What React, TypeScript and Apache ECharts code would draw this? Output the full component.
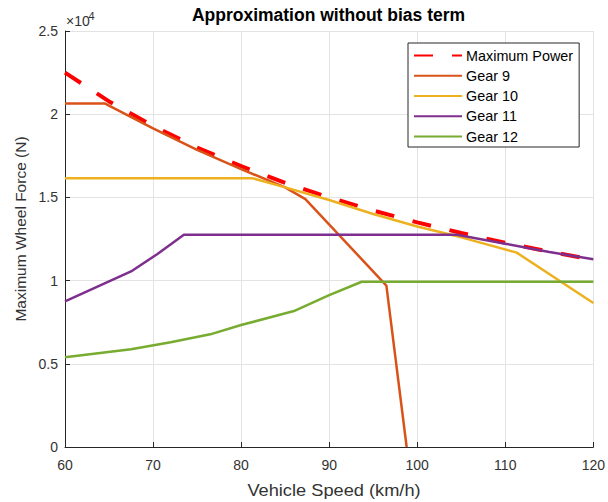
import React, { useEffect, useRef } from "react";
import * as echarts from "echarts";

const xTicks = [60, 70, 80, 90, 100, 110, 120];
const seriesNames = ["Maximum Power", "Gear 9", "Gear 10", "Gear 11", "Gear 12"];

// [speed km/h, force N]
const maxPower: number[][] = [
  [60, 22500], [65, 20770], [70, 19290], [75, 18000], [80, 16875], [85, 15880],
  [90, 15000], [95, 14210], [100, 13500], [105, 12860], [110, 12270], [115, 11740], [120, 11250],
];
const gear9: number[][] = [
  [60, 20650], [64.5, 20650], [70, 19150], [75, 17850], [80, 16700], [85, 15600],
  [87.3, 14900], [96.5, 9700], [98.8, 0],
];
const gear10: number[][] = [
  [60, 16150], [81.3, 16150], [85, 15600], [90, 14840], [95, 14000], [100, 13250],
  [105, 12600], [111.3, 11680], [120, 8650],
];
const gear11: number[][] = [
  [60, 8750], [67.5, 10550], [70.5, 11600], [73.5, 12750], [104.5, 12750],
  [110, 12220], [115, 11720], [120, 11280],
];
const gear12: number[][] = [
  [60, 5400], [67.5, 5870], [72, 6300], [76.5, 6770], [80, 7330], [86, 8170],
  [90, 9130], [93.7, 9930], [120, 9930],
];

const colors = ["#FF0000", "#D95319", "#EDB120", "#7E2F8E", "#77AC30"];
const FONT = "'Liberation Sans', Arial, Helvetica, sans-serif";

export default function App() {
  const ref = useRef<HTMLDivElement>(null);
  useEffect(() => {
    if (!ref.current) return;
    const chart = echarts.init(ref.current, undefined, { renderer: "svg" });
    const data = [maxPower, gear9, gear10, gear11, gear12];
    chart.setOption({
      animation: false,
      backgroundColor: "#fff",
      textStyle: { fontFamily: FONT },
      grid: { left: 65, right: 14.5, top: 31, bottom: 55, containLabel: false },
      graphic: [
        {
          type: "text",
          x: 328.5,
          y: 14.5,
          style: {
            text: "Approximation without bias term",
            font: `bold 17.5px ${FONT}`,
            fill: "#000",
            align: "center",
            verticalAlign: "middle",
          },
        },
        {
          type: "text",
          x: 334,
          y: 490,
          scaleX: 1.14,
          style: {
            text: "Vehicle Speed (km/h)",
            font: `16px ${FONT}`,
            fill: "#333",
            align: "center",
            verticalAlign: "middle",
          },
        },
        {
          type: "text",
          x: 20,
          y: 229,
          rotation: Math.PI / 2,
          style: {
            text: "Maximum Wheel Force (N)",
            font: `15.5px ${FONT}`,
            fill: "#333",
            align: "center",
            verticalAlign: "middle",
          },
        },
        {
          type: "text",
          x: 66,
          y: 14,
          style: { text: "×10", font: `14px ${FONT}`, fill: "#333", verticalAlign: "top" },
        },
        {
          type: "text",
          x: 88.5,
          y: 10,
          style: { text: "4", font: `11px ${FONT}`, fill: "#333", verticalAlign: "top" },
        },
      ],
      legend: {
        orient: "vertical",
        left: 408,
        top: 43,
        data: seriesNames,
        itemWidth: 48,
        itemHeight: 14,
        itemGap: 6.25,
        padding: [5.5, 6, 3.5, 5],
        borderColor: "#262626",
        borderWidth: 1,
        backgroundColor: "#fff",
        itemStyle: { opacity: 0 },
        textStyle: {
          fontSize: 14.4,
          lineHeight: 14,
          color: "#000",
          fontFamily: FONT,
          padding: [0, 0, 0, -1],
        },
      },
      xAxis: {
        type: "value",
        min: 60,
        max: 120,
        interval: 10,
        axisLine: { show: true, onZero: false, lineStyle: { color: "#262626", width: 1 } },
        axisTick: { show: true, inside: true, length: 5, lineStyle: { color: "#262626" } },
        axisLabel: {
          fontSize: 14,
          color: "#333",
          margin: 11,
          fontFamily: FONT,
          formatter: (v: number) => (xTicks.includes(v) ? String(v) : ""),
        },
        splitLine: { show: true, lineStyle: { color: "#e3e3e3", width: 1 } },
      },
      yAxis: {
        type: "value",
        min: 0,
        max: 25000,
        interval: 5000,
        axisLine: { show: true, lineStyle: { color: "#262626", width: 1 } },
        axisTick: { show: true, inside: true, length: 5, lineStyle: { color: "#262626" } },
        axisLabel: {
          fontSize: 14,
          color: "#333",
          margin: 7,
          fontFamily: FONT,
          formatter: (v: number) => String(v / 10000),
        },
        splitLine: { show: true, lineStyle: { color: "#e3e3e3", width: 1 } },
      },
      series: seriesNames.map((name, i) => ({
        name,
        type: "line",
        data: data[i],
        symbol: "none",
        clip: true,
        color: colors[i],
        lineStyle:
          i === 0
            ? { color: colors[i], width: 4, type: [19, 19] }
            : { color: colors[i], width: 2.5 },
        z: i === 0 ? 2 : 3,
      })),
    });
    return () => chart.dispose();
  }, []);
  return (
    <div
      ref={ref}
      style={{ position: "fixed", left: 0, top: 0, width: 608, height: 502 }}
    />
  );
}
